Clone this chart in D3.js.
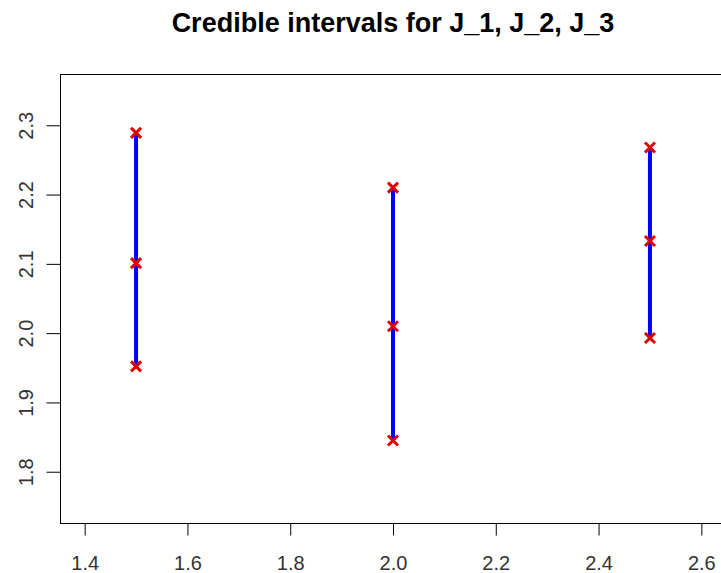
<!DOCTYPE html>
<html>
<head>
<meta charset="utf-8">
<script src="https://cdn.jsdelivr.net/npm/d3@7"></script>
<style>
body{margin:0;background:#fff}
text{font-family:"Liberation Sans",Arial,sans-serif}
</style>
</head>
<body>
<div id="chart"></div>
<script>
var width = 721
var height = 573
var margin = {top:74, left:60, right:-5, bottom:50}

// intervals: lower, mid, upper
var positions = [1.5, 2.0, 2.5]
var lower = [1.952, 1.845, 1.993]
var middle = [2.101, 2.010, 2.133]
var upper = [2.289, 2.210, 2.268]
var xTicks = [1.4, 1.6, 1.8, 2.0, 2.2, 2.4, 2.6]
var yTicks = [1.8, 1.9, 2.0, 2.1, 2.2, 2.3]

var svg = d3.select("#chart").append("svg").attr("width",width).attr("height",height)

// R style: limits padded by 4%
var x = d3.scaleLinear().domain([1.4-0.048, 2.6+0.048]).range([margin.left, width-margin.right])
var y = d3.scaleLinear().domain([1.75-0.024, 2.35+0.024]).range([height-margin.bottom, margin.top])

svg.append("text")
   .attr("x",(x.range()[0]+x.range()[1])/2)
   .attr("y",32)
   .attr("text-anchor","middle")
   .style("font-size","27px")
   .style("font-weight","bold")
   .text("Credible intervals for J_1, J_2, J_3")

// box
svg.append("rect")
   .attr("x",x.range()[0]+0.5).attr("y",y.range()[1]+0.5)
   .attr("width",x.range()[1]-x.range()[0]).attr("height",y.range()[0]-y.range()[1])
   .attr("fill","none").attr("stroke","#000").attr("stroke-width",1)

var xAxis = svg.append("g")
   .attr("transform","translate(0,"+(y.range()[0]+0.5)+")")
   .call(d3.axisBottom(x).tickValues(xTicks).tickFormat(d3.format(".1f")).tickSize(12).tickPadding(20))
xAxis.select(".domain").attr("d","M"+x(1.4)+",0H"+x(2.6))
xAxis.selectAll("text").style("font-size","20px").attr("fill","#333")

var yAxis = svg.append("g")
   .attr("transform","translate("+(x.range()[0]+0.5)+",0)")
   .call(d3.axisLeft(y).tickValues(yTicks).tickFormat(d3.format(".1f")).tickSize(14).tickPadding(8))
yAxis.select(".domain").attr("d","M0,"+y(1.8)+"V"+y(2.3))
yAxis.selectAll(".tick text")
   .style("font-size","20px").attr("fill","#333")
   .attr("transform","rotate(-90)")
   .attr("x",0)
   .attr("y",-28)
   .attr("dy",0)
   .attr("text-anchor","middle")

// interval lines
svg.selectAll("line.ci")
   .data(positions)
   .enter()
   .append("line")
   .attr("class","ci")
   .attr("x1",function(d){ return x(d) })
   .attr("x2",function(d){ return x(d) })
   .attr("y1",function(d,i){ return y(lower[i]) })
   .attr("y2",function(d,i){ return y(upper[i]) })
   .style("stroke","#0000ff")
   .style("stroke-width",4)

// crosses
var pts = []
positions.forEach(function(p,i){
  pts.push({x:p, v:lower[i]}, {x:p, v:middle[i]}, {x:p, v:upper[i]})
})
var s = 5
svg.selectAll("path.pt")
   .data(pts)
   .enter()
   .append("path")
   .attr("class","pt")
   .attr("transform",function(d){ return "translate("+x(d.x)+","+y(d.v)+")" })
   .attr("d","M"+(-s)+","+(-s)+"L"+s+","+s+"M"+(-s)+","+s+"L"+s+","+(-s))
   .style("stroke","#e00000")
   .style("stroke-width",3)
</script>
</body>
</html>
